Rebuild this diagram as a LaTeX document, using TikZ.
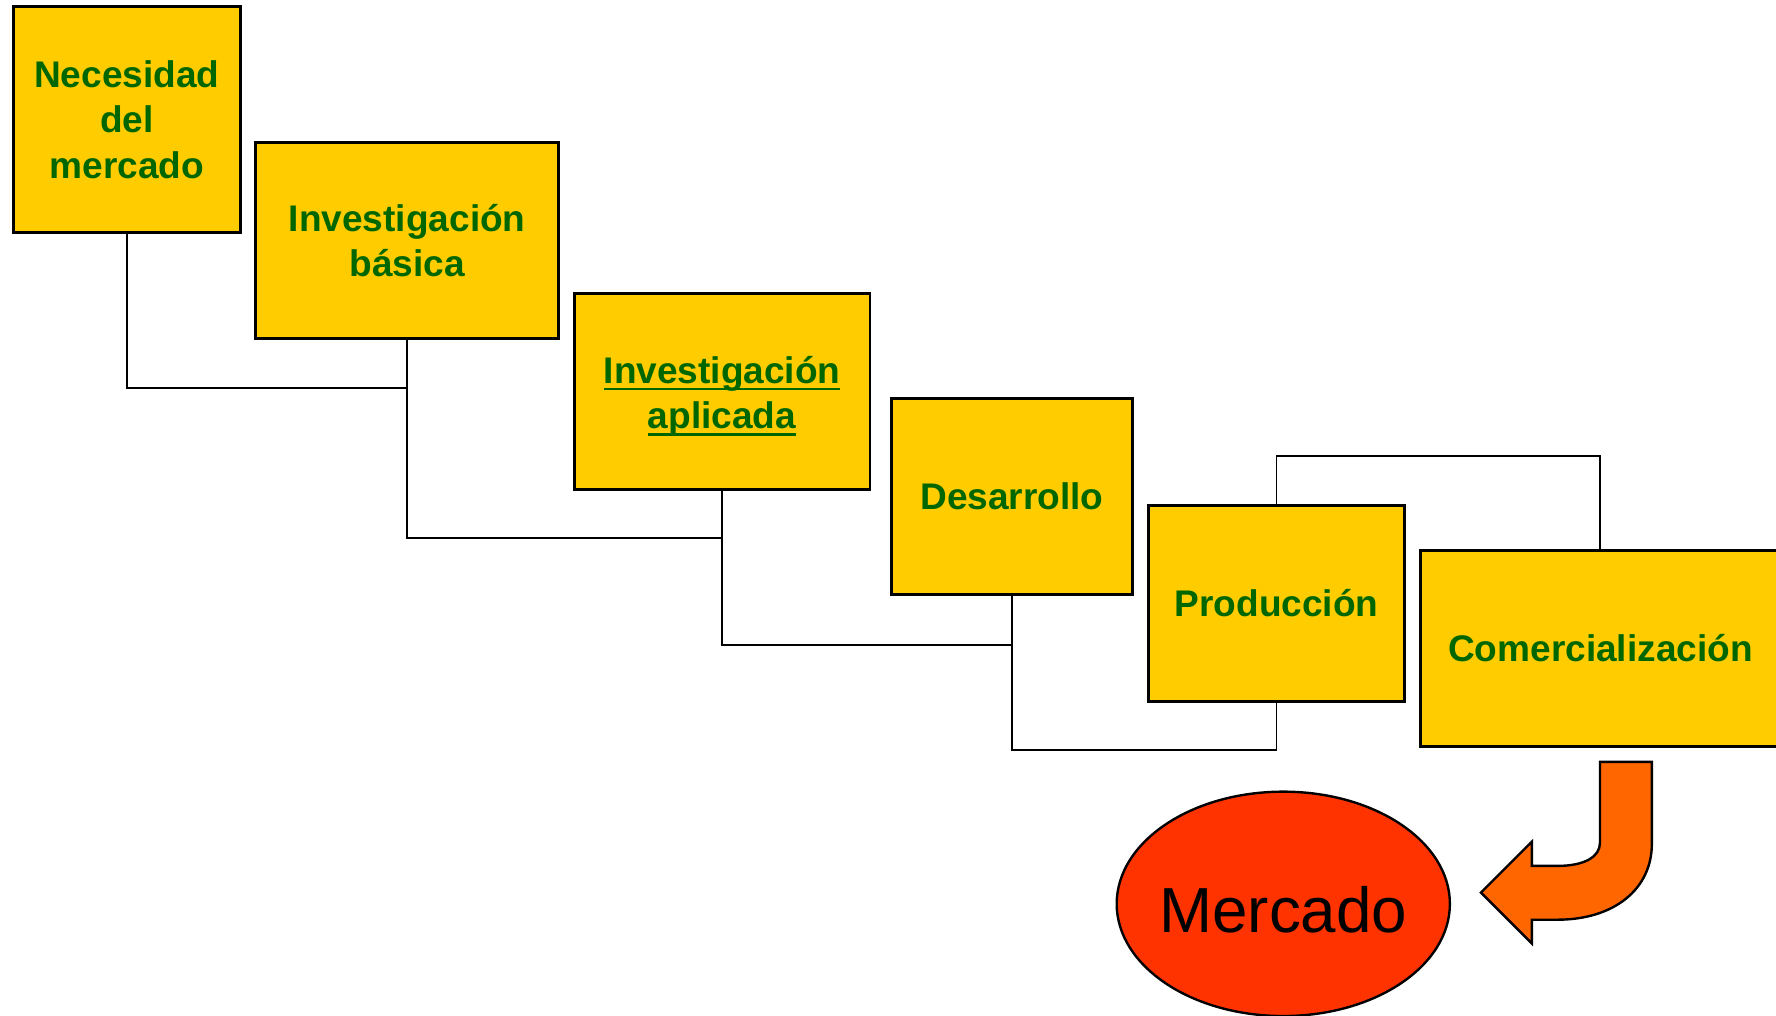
\documentclass[tikz,border=0pt]{standalone}
\usepackage{fontspec}
\setmainfont{Liberation Sans}
\usetikzlibrary{shapes,arrows,positioning}
\usepackage{xcolor}

\definecolor{boxyellow}{HTML}{FFCC00}
\definecolor{textgreen}{HTML}{006600}
\definecolor{marketred}{HTML}{FF3300}
\definecolor{arroworange}{HTML}{FF6600}

% underlined word
\newcommand\ulword[1]{\setbox0\hbox{#1}\rlap{\rule[-1.7pt]{\wd0}{0.65pt}}\box0}
% push text down a bit (extra height on top)
\newcommand\pushdown[2]{\raisebox{0pt}[\dimexpr\height+#1\relax]{#2}}

\begin{document}
\begin{tikzpicture}[x=0.01cm,y=-0.01cm,
  stage/.style={draw=black, line width=0.7pt, fill=boxyellow, text=textgreen,
    font=\fontsize{9.3}{11.4}\selectfont\bfseries, align=center,
    inner sep=0pt, minimum height=1.73cm},
  link/.style={draw=black, line width=0.5pt}]

% Fix the page size
\useasboundingbox (0,0) rectangle (1568,897);

% Draw the stages
\node[stage, minimum width=2cm, minimum height=1.99cm] (need) at (112,105.5) {Necesidad\\del\\mercado};
\node[stage, minimum width=2.67cm] (basica) at (359.5,212.5) {Investigación\\básica};
\node[stage, minimum width=2.61cm] (aplicada) at (637.5,345.5) {\pushdown{2.6pt}{\ulword{Investigación}}\\\ulword{aplicada}};
\node[stage, minimum width=2.13cm] (desarrollo) at (893.5,438.5) {Desarrollo};
\node[stage, minimum width=2.26cm] (produccion) at (1127,532.5) {Producción};
\node[stage, minimum width=3.18cm] (comercial) at (1413,572.5) {Comercialización};

% Connect the stages
\draw[link] (need.south) -- ++(0,136) -| (basica.south);
\draw[link] (basica.south) -- ++(0,175) -| (aplicada.south);
\draw[link] (aplicada.south) -- ++(0,136) -| (desarrollo.south);
\draw[link] (desarrollo.south) -- ++(0,136) -| (produccion.south);
\draw[link] (produccion.north) -- ++(0,-42) -| (comercial.north);

% Market ellipse
\node[ellipse, draw=black, line width=0.6pt, fill=marketred, minimum width=2.94cm,
  minimum height=1.98cm, inner sep=0pt, font=\fontsize{16}{19}\selectfont] (mercado) at (1133,798)
  {\makebox[0pt]{\pushdown{3pt}{Mercado}}};

% Bent arrow into the market
\filldraw[fill=arroworange, draw=black, line width=0.6pt, line join=miter]
  (1412.6,672.7) -- (1458.4,672.7) -- (1458.4,745)
  .. controls (1458.4,785) and (1425,812) .. (1375,812)
  -- (1352.5,812) -- (1352.5,833) -- (1307.5,788) -- (1352.5,743)
  -- (1352.5,764.5) -- (1375,764.5)
  .. controls (1398,764.5) and (1412.6,757) .. (1412.6,744) -- cycle;

\end{tikzpicture}
\end{document}
